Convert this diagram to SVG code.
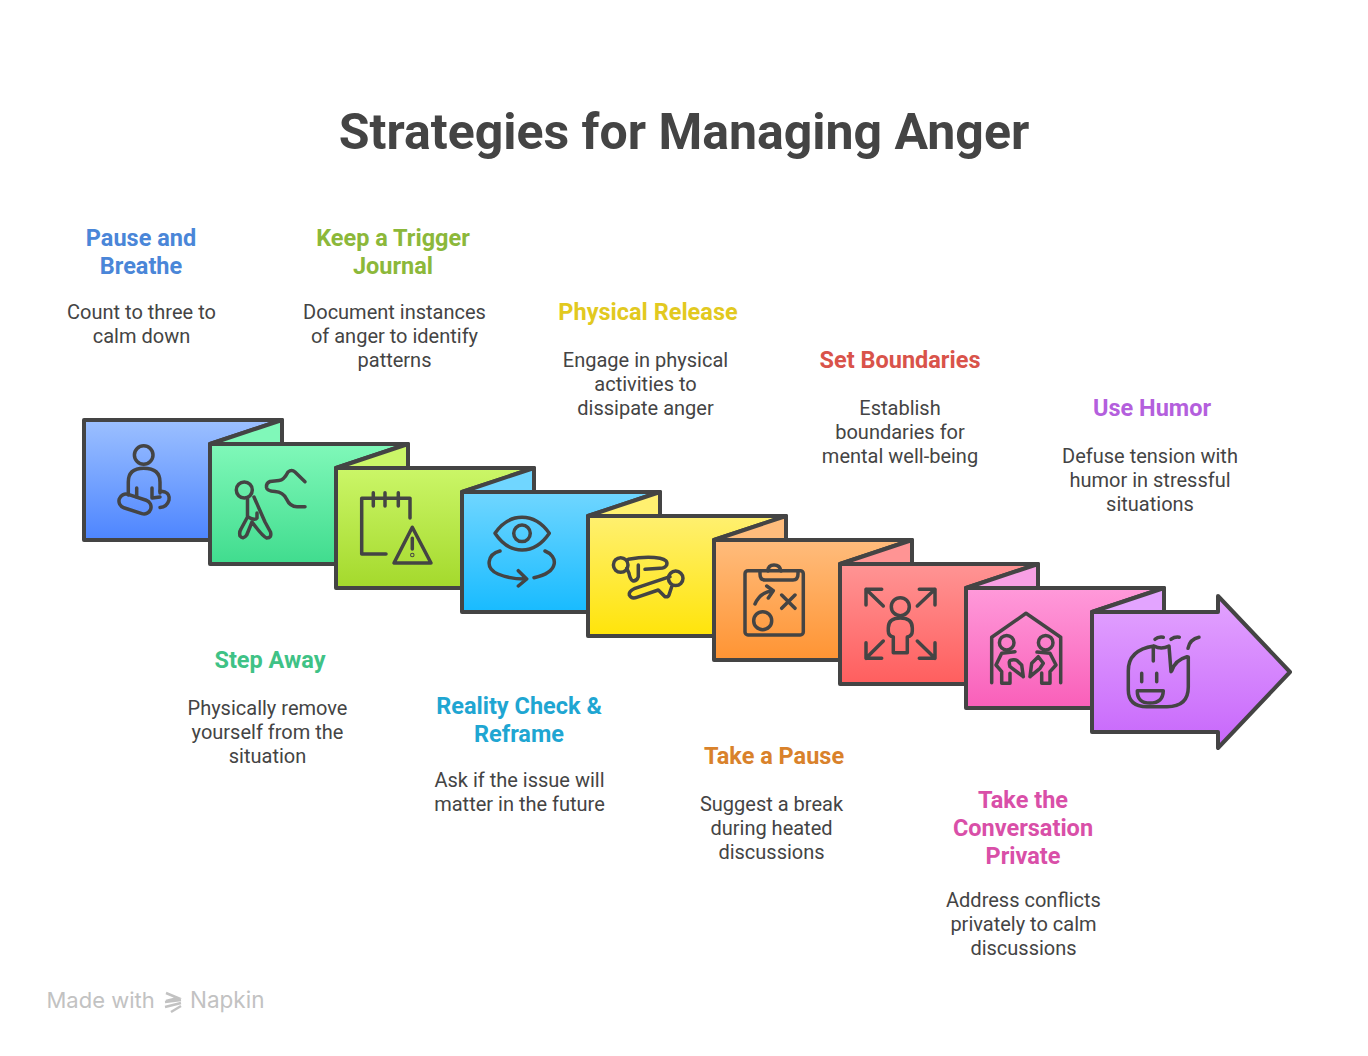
<svg xmlns="http://www.w3.org/2000/svg" width="1368" height="1056" viewBox="0 0 1368 1056">
<style>
text{font-family:Roboto,"Liberation Sans",sans-serif;text-anchor:middle}
.t{font-size:50px;font-weight:700;fill:#444}
.h{font-size:23.500px;font-weight:700}
.b{font-size:20px;fill:#444}
.p{stroke:#444;stroke-width:4;stroke-linejoin:round}
.i{fill:none;stroke:#444;stroke-width:3.500;stroke-linecap:round;stroke-linejoin:round}
.w{text-anchor:start;font-size:22px;font-family:Inter,Roboto,sans-serif;fill:#c2c2c2}
</style>
<defs>
<linearGradient id="g1" x1="0" y1="0" x2="0" y2="1"><stop offset="0" stop-color="#9cc0ff"/><stop offset="1" stop-color="#4d85ff"/></linearGradient>
<linearGradient id="g2" x1="0" y1="0" x2="0" y2="1"><stop offset="0" stop-color="#80f8b9"/><stop offset="1" stop-color="#40dc8e"/></linearGradient>
<linearGradient id="g3" x1="0" y1="0" x2="0" y2="1"><stop offset="0" stop-color="#cbf668"/><stop offset="1" stop-color="#a4d92c"/></linearGradient>
<linearGradient id="g4" x1="0" y1="0" x2="0" y2="1"><stop offset="0" stop-color="#70d6ff"/><stop offset="1" stop-color="#18bbff"/></linearGradient>
<linearGradient id="g5" x1="0" y1="0" x2="0" y2="1"><stop offset="0" stop-color="#fff070"/><stop offset="1" stop-color="#ffe40a"/></linearGradient>
<linearGradient id="g6" x1="0" y1="0" x2="0" y2="1"><stop offset="0" stop-color="#ffbc7c"/><stop offset="1" stop-color="#ff9433"/></linearGradient>
<linearGradient id="g7" x1="0" y1="0" x2="0" y2="1"><stop offset="0" stop-color="#ff9494"/><stop offset="1" stop-color="#ff5e5e"/></linearGradient>
<linearGradient id="g8" x1="0" y1="0" x2="0" y2="1"><stop offset="0" stop-color="#ff9ada"/><stop offset="1" stop-color="#f95fb9"/></linearGradient>
<linearGradient id="g9" x1="0" y1="0" x2="0" y2="1"><stop offset="0" stop-color="#e3a4ff"/><stop offset="1" stop-color="#c766fb"/></linearGradient>
</defs>
<rect width="1368" height="1056" fill="#fff"/>
<text class="t" x="684" y="149">Strategies for Managing Anger</text>

<g id="node-1">
<path class="p" fill="url(#g1)" d="M84 420H282L210 444V540H84Z"/>
<g class="i"><circle cx="143.700" cy="455" r="9.300"/><path d="M128.300 495V482Q128.300 468.300 143.700 468.300Q160 468.300 160 482V493"/><rect x="118.500" y="497" width="33" height="14" rx="7" transform="rotate(18 135 504)"/><path d="M160 491L165 492Q170 494 169 500Q167 507 160 507.500M136.700 488V497M152 488V498L160 497"/></g>
<text class="h" fill="#4a86d8" x="141" y="246">Pause and</text><text class="h" fill="#4a86d8" x="141" y="274">Breathe</text>
<text class="b" x="141.500" y="319">Count to three to</text><text class="b" x="141.500" y="343">calm down</text>
</g>
<g id="node-2">
<path class="p" fill="#80f8b9" d="M210 444L282 420V444Z"/>
<path class="p" fill="url(#g2)" d="M210 444H408L336 468V564H210Z"/>
<g class="i"><circle cx="244.300" cy="490" r="8"/><path d="M305 481.700L295 472Q291.700 469 288 472Q284 480 279 480.500L270 481.500Q266 483 266.500 487.500Q267 491 275 491.500Q283 492 286.500 499Q290 506.700 297 506.700H305"/><path d="M254 497L265 522L270.500 532Q272 538 266.700 538Q263 537 252 522L246.700 535Q243 540 240 536Q239 532 241 529L247.500 517V498"/><path d="M257 513V518Q255 521 248 517"/></g>
<text class="h" fill="#3fc286" x="270" y="668">Step Away</text>
<text class="b" x="267.500" y="715">Physically remove</text><text class="b" x="267.500" y="739">yourself from the</text><text class="b" x="267.500" y="763">situation</text>
</g>
<g id="node-3">
<path class="p" fill="#cbf668" d="M336 468L408 444V468Z"/>
<path class="p" fill="url(#g3)" d="M336 468H534L462 492V588H336Z"/>
<g class="i"><path d="M410 518V498.300H361.700V554H386M373.300 492.700V506M385 492.700V506M398.300 492.700V506"/><path d="M412.300 527.300L394 563H431ZM412.300 538.300V549"/><circle cx="412.300" cy="555" r="0.500"/></g>
<text class="h" fill="#8cb83a" x="393" y="246">Keep a Trigger</text><text class="h" fill="#8cb83a" x="393" y="274">Journal</text>
<text class="b" x="394.500" y="319">Document instances</text><text class="b" x="394.500" y="343">of anger to identify</text><text class="b" x="394.500" y="367">patterns</text>
</g>
<g id="node-4">
<path class="p" fill="#70d6ff" d="M462 492L534 468V492Z"/>
<path class="p" fill="url(#g4)" d="M462 492H660L588 516V612H462Z"/>
<g class="i"><path d="M495 533.300Q506 517.300 522 517.300Q538 517.300 549.300 533.300Q538 550 522 550Q506 550 495 533.300Z"/><circle cx="522" cy="533.300" r="8.300"/><path d="M500 551C488 554 484 568 498 574Q510 579 525 579M518.300 570.700L526.700 579L518.300 586M545 551C558 556 560 572 534 577.700"/></g>
<text class="h" fill="#1fa6d2" x="519" y="714">Reality Check &amp;</text><text class="h" fill="#1fa6d2" x="519" y="742">Reframe</text>
<text class="b" x="519.500" y="787">Ask if the issue will</text><text class="b" x="519.500" y="811">matter in the future</text>
</g>
<g id="node-5">
<path class="p" fill="#fff070" d="M588 516L660 492V516Z"/>
<path class="p" fill="url(#g5)" d="M588 516H786L714 540V636H588Z"/>
<g class="i"><circle cx="620.700" cy="565" r="7.300"/><circle cx="675.700" cy="578.300" r="7.300"/><path d="M628.300 559.300Q646.700 556 660 558.300Q668.300 560 666.700 565Q665 568.300 660 568.300L645 569.300M638.300 565V576.700Q636.700 581.700 632.700 580.700Q630 579.300 629 573.300L626.700 568.300"/><path d="M670 576.700L635 588.300Q628.300 591.700 629.300 595Q631.700 599.300 636.700 597.300L658.300 590L665 596.700Q668.300 597.300 669 595L671.700 586.700"/></g>
<text class="h" fill="#e2c91f" x="648" y="320">Physical Release</text>
<text class="b" x="645.500" y="367">Engage in physical</text><text class="b" x="645.500" y="391">activities to</text><text class="b" x="645.500" y="415">dissipate anger</text>
</g>
<g id="node-6">
<path class="p" fill="#ffbc7c" d="M714 540L786 516V540Z"/>
<path class="p" fill="url(#g6)" d="M714 540H912L840 564V660H714Z"/>
<g class="i"><rect x="745" y="570.700" width="58.300" height="64.300" rx="3"/><path d="M760 571V574Q760 580 765 580H793Q798 580 798 574V571M768 571Q768 565 774 565Q780 565 781 571"/><path d="M755 604Q760 592 773 590.700M766.700 586L773.300 590.700L768.300 598M781.700 595L795 608.300M795 595L781.700 608.300"/><circle cx="762.700" cy="620.700" r="9"/></g>
<text class="h" fill="#d9822b" x="774" y="764">Take a Pause</text>
<text class="b" x="771.500" y="811">Suggest a break</text><text class="b" x="771.500" y="835">during heated</text><text class="b" x="771.500" y="859">discussions</text>
</g>
<g id="node-7">
<path class="p" fill="#ff9494" d="M840 564L912 540V564Z"/>
<path class="p" fill="url(#g7)" d="M840 564H1038L966 588V684H840Z"/>
<g class="i"><circle cx="900.300" cy="606.700" r="9"/><path d="M893.300 652.700V637Q888.300 636 888.300 631V628Q888.300 618 900.300 618Q912.300 618 912.300 628V631Q912.300 636 907.300 637V652.700Z"/><path d="M881.700 589.300H866V605M866 589.300L883.300 606M919.300 589.300H935V605M935 589.300L917.300 606M881.700 658.300H866V642.700M866 658.300L883.300 641M919.300 658.300H935V642.700M935 658.300L917.300 641"/></g>
<text class="h" fill="#d9534a" x="900" y="368">Set Boundaries</text>
<text class="b" x="900" y="415">Establish</text><text class="b" x="900" y="439">boundaries for</text><text class="b" x="900" y="463">mental well-being</text>
</g>
<g id="node-8">
<path class="p" fill="#f7a0e4" d="M966 588L1038 564V588Z"/>
<path class="p" fill="url(#g8)" d="M966 588H1164L1092 612V708H966Z"/>
<g class="i"><path d="M991.700 682.700V637.300L1026 613.300L1060.700 637.300V682.700"/><circle cx="1006.700" cy="642.700" r="7.300"/><circle cx="1045.700" cy="642.700" r="7.300"/><path d="M1015 651.700L1001.700 653.300L996 665L1001.700 671.700V683.300H1010V673.300M1023.300 676.700L1010 666.700Q1008 660 1011.700 660Q1016 659 1018.300 661.700L1021.700 665L1023.300 676.700M1030 676.700L1031.700 663.300L1038.300 656.700L1043.300 663.300L1040 668.300L1030 676.700M1037 652L1050 653.300L1056 665L1050 671.700V683.300H1041.700V673"/></g>
<text class="h" fill="#d94fa8" x="1023" y="808">Take the</text><text class="h" fill="#d94fa8" x="1023" y="836">Conversation</text><text class="h" fill="#d94fa8" x="1023" y="864">Private</text>
<text class="b" x="1023.500" y="907">Address conflicts</text><text class="b" x="1023.500" y="931">privately to calm</text><text class="b" x="1023.500" y="955">discussions</text>
</g>
<g id="node-9">
<path class="p" fill="#e3a4ff" d="M1092 612L1164 588V612Z"/>
<path class="p" fill="url(#g9)" d="M1092 612H1218V596L1290 672L1218 748V732H1092Z"/>
<g class="i"><path d="M1171 671.700L1169 646Q1161 650 1154 646Q1128 650 1128.300 671V690Q1128.300 706.700 1147 706.700H1167Q1188.300 706.700 1188.300 687V657M1153.300 646V661M1171.700 671Q1175 660 1187 656.700"/><path d="M1141.700 673.300V681.700M1156.700 673.300V681.700M1137.300 690.700H1163.300Q1163 703 1150 703Q1137 703 1137.300 690.700Z"/><path d="M1155 639.300Q1158 636.500 1163.300 637.300M1171 639.300Q1175 636.500 1179.300 637.300M1188 648.300Q1190 639 1199 637.300"/></g>
<text class="h" fill="#b45fdd" x="1152" y="416">Use Humor</text>
<text class="b" x="1150" y="463">Defuse tension with</text><text class="b" x="1150" y="487">humor in stressful</text><text class="b" x="1150" y="511">situations</text>
</g>
<g id="watermark">
<text class="w" x="46.500" y="1008">Made with</text>
<path d="M166 993L178 998L166 1001M165 1002L181 1000M165 1007L181 1003M171 1012L181 1006" fill="none" stroke="#c2c2c2" stroke-width="2.500"/>
<text class="w" x="190" y="1008" style="font-size:22.500px">Napkin</text>
</g>
</svg>
